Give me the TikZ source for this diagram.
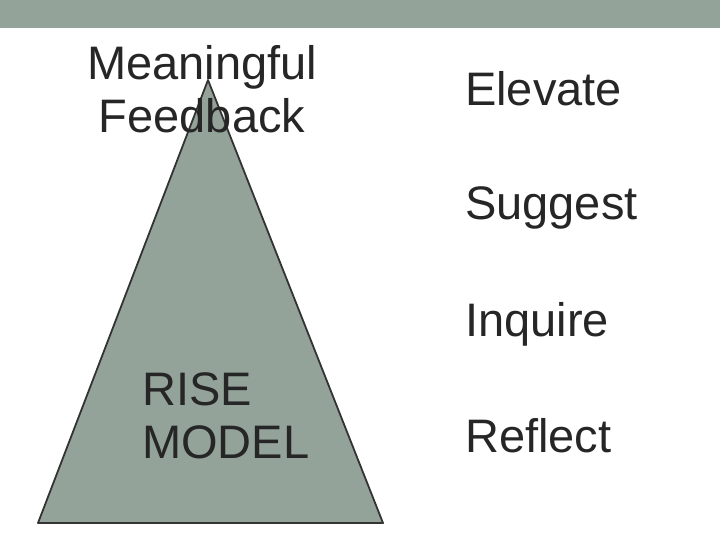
\documentclass[tikz,border=0pt]{standalone}
\usepackage{fontspec}
\setmainfont{Liberation Sans}
\begin{document}
\begin{tikzpicture}[x=1pt,y=-1pt,
  lbl/.style={anchor=base west,inner sep=0pt,font=\fontsize{47}{53}\selectfont,text=black!85}]
\definecolor{sage}{RGB}{148,163,153}
\useasboundingbox (0,0) rectangle (720,540);
\fill[white] (0,0) rectangle (720,540);
\fill[sage] (0,0) rectangle (720,28);
\coordinate (apex) at (208,80);
\coordinate (bl) at (38,523);
\coordinate (br) at (383,523);
\draw[fill=sage,draw=black!80,line width=1.8pt,line join=round] (apex) -- (br) -- (bl) -- cycle;
\node[inner sep=0pt,align=center,anchor=base,font=\fontsize{47}{53}\selectfont,text=black!85] (mf) at (202,133) {Meaningful\\Feedback};
\node[lbl] (e) at (465,106) {Elevate};
\node[lbl] (s) at (465,220) {Suggest};
\node[lbl] (i) at (465,336) {Inquire};
\node[lbl] (r) at (465,452) {Reflect};
\node[lbl,align=left,anchor=base west] (rm) at (142,458) {RISE\\MODEL};
\end{tikzpicture}
\end{document}
